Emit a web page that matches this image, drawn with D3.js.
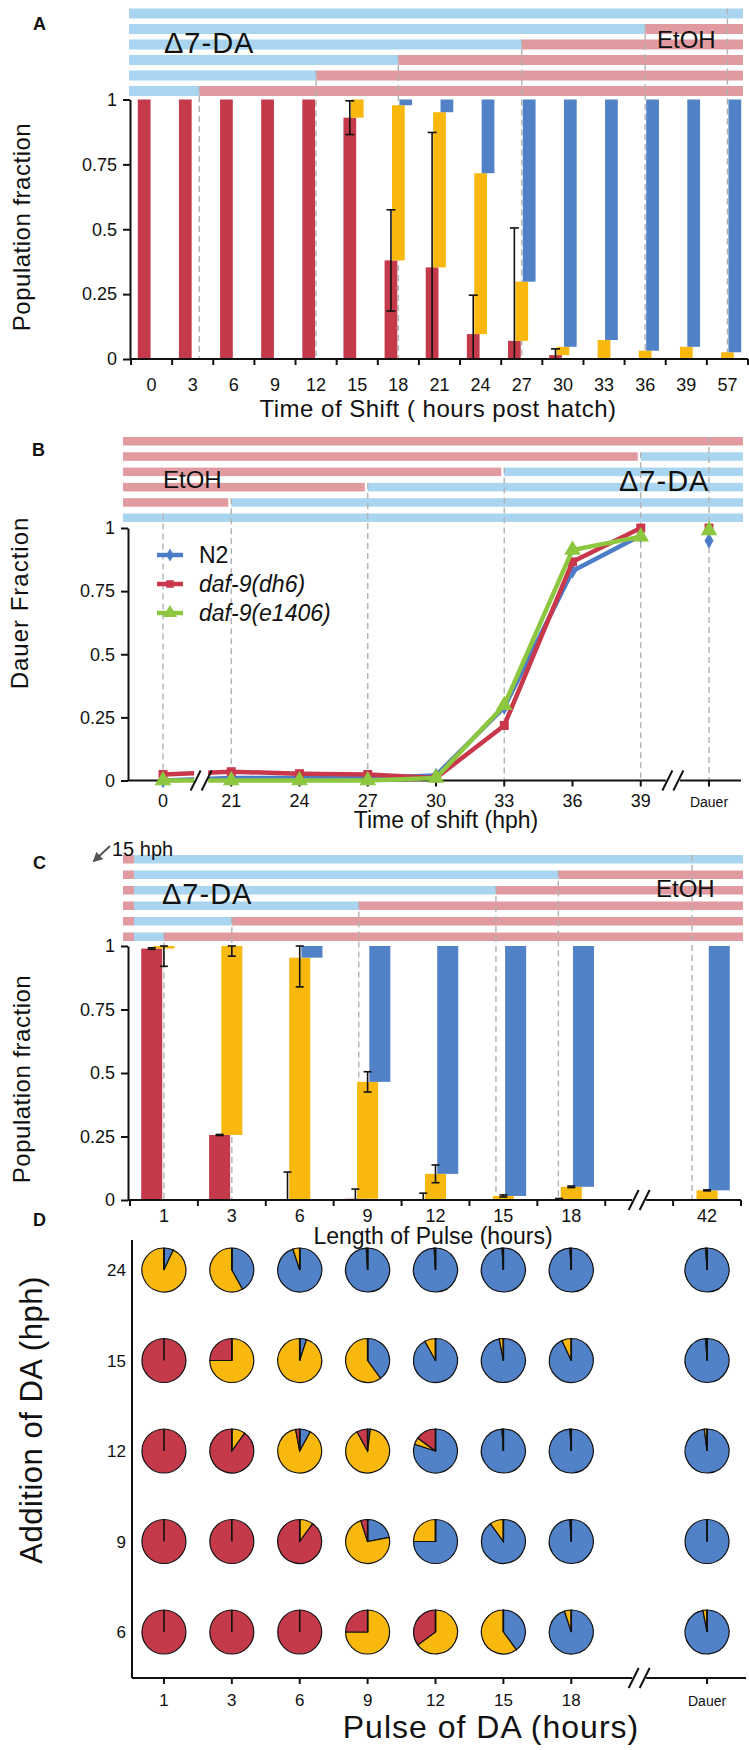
<!DOCTYPE html>
<html><head><meta charset="utf-8">
<script src="https://cdn.jsdelivr.net/npm/d3@7"></script>
<style>
body{margin:0;background:#fff}
svg{display:block;font-family:"Liberation Sans",Arial,Helvetica,sans-serif}
</style></head><body>
<svg id="fig" width="749" height="1750"></svg>
<script>
// ---------------- data ----------------
// A: shift from Δ7-DA to EtOH at different hours post hatch
const aHours   = ["0","3","6","9","12","15","18","21","24","27","30","33","36","39","57"];
const aRepro   = [1,1,1,1,1,0.93,0.38,0.353,0.096,0.07,0.015,0,0,0,0];
const aPartial = [0,0,0,0,0,0.07,0.598,0.598,0.62,0.228,0.032,0.073,0.032,0.047,0.026];
const aReproErr= [0,0,0,0,0,0.065,0.195,0.52,0.15,0.435,0.024,0,0,0,0];
const aShiftAt = ["57","36","27","18","12","3"];
const aShiftNudge = [0,0,0,0,0,0.16];

// B: shift from EtOH to Δ7-DA
const bTimes = ["0","21","24","27","30","33","36","39","Dauer"];
const bN2    = [0,0.01,0.01,0.01,0.02,0.29,0.83,0.97,0.95];
const bDh6   = [0.024,0.035,0.027,0.024,0.01,0.218,0.866,1.0,1.0];
const bE1406 = [0,0,0,0,0.01,0.298,0.913,0.966,0.99];
const bShiftAt = ["Dauer","39","33","27","21","0"];

// C: Δ7-DA pulses of different length starting at 15 hph
const cPulse   = ["1","3","6","9","12","15","18","gap","42"];
const cRepro   = [0.99,0.256,0,0.005,0,0.003,0.004,0,0];
const cPartial = [0.01,0.744,0.954,0.46,0.103,0.013,0.048,0,0.038];
const cReproErr= [0.003,0.002,0.11,0.038,0.027,0,0.002,0,0];
const cPartErr = [0.08,0.04,0.115,0.04,0.035,0.004,0.003,0,0.002];
const cShiftAt = ["42","18","15","9","3","1"];
const cShiftNudge = [-0.22,-0.19,-0.11,-0.13,0,0];

// D: pulse length x time of DA addition
const dPulse = ["1","3","6","9","12","15","18","gap","Dauer"];
const dAdd   = ["24","15","12","9","6"];
const dRepro = [
  [0,0,0,0,0,0,0,null,0],
  [1,0.25,0,0,0,0,0,null,0],
  [1,0.9,0.03,0.08,0.15,0,0,null,0],
  [1,1,0.9,0.05,0,0,0,null,0],
  [1,1,1,0.25,0.35,0,0,null,0]
];
const dPartial = [
  [0.93,0.58,0.05,0.01,0.01,0.01,0.01,null,0.01],
  [0,0.75,0.95,0.6,0.08,0.03,0.07,null,0.01],
  [0,0.1,0.89,0.9,0.05,0.01,0.01,null,0.02],
  [0,0,0.1,0.73,0.25,0.1,0.01,null,0],
  [0,0,0,0.75,0.65,0.6,0.05,null,0.03]
];

// ---------------- style ----------------
const COL = {red:"#c43a4a", yellow:"#f8b80e", blue:"#5181c6",
             sBlue:"#a9d5f0", sPink:"#e09aa0", dash:"#b3b3b3", ink:"#111",
             n2:"#4d7dc9", dh6:"#c8374a", e1406:"#8dc63f"};
const TICK = 18, TITLE = 23;
const svg = d3.select("#fig");

function label(g, x, y, s, size, opts = {}) {
  const t = g.append("text").attr("x", x).attr("y", y).attr("font-size", size)
    .attr("fill", COL.ink).attr("text-anchor", opts.anchor || "start").text(s);
  if (opts.bold) t.attr("font-weight", "bold");
  if (opts.italic) t.attr("font-style", "italic");
  if (opts.spacing) t.attr("letter-spacing", opts.spacing);
  if (opts.rotate) t.attr("transform", `rotate(-90 ${x} ${y})`);
  return t;
}

// striped schedule bars above a panel
function stripes(g, rows, top, step, h) {
  rows.forEach((segs, i) => {
    segs.forEach(s => {
      if (s[1] - s[0] <= 0) return;
      g.append("rect").attr("x", s[0]).attr("y", top + i * step)
        .attr("width", s[1] - s[0]).attr("height", h).attr("fill", s[2]);
    });
  });
}
function dashLines(g, xs, top, step, bottom) {
  xs.forEach((x, i) => {
    g.append("line").attr("x1", x).attr("x2", x)
      .attr("y1", top + i * step).attr("y2", bottom)
      .attr("stroke", COL.dash).attr("stroke-width", 1.4).attr("stroke-dasharray", "6,4");
  });
}
function yAxis(g, y, x) {
  const ax = d3.axisLeft(y).tickValues([0, 0.25, 0.5, 0.75, 1])
    .tickFormat(d => String(d)).tickSize(7).tickSizeOuter(0).tickPadding(6);
  const a = g.append("g").attr("transform", `translate(${x},0)`).call(ax);
  a.selectAll("path,line").attr("stroke", COL.ink).attr("stroke-width", 2);
  a.selectAll("text").attr("font-size", TICK).attr("fill", COL.ink)
    .attr("font-family", "Liberation Sans, Arial, sans-serif");
}
function breakMark(g, xm, y) {
  g.append("rect").attr("x", xm - 7).attr("y", y - 13).attr("width", 14).attr("height", 26).attr("fill", "#fff");
  [-5.5, 5.5].forEach(d => g.append("line")
    .attr("x1", xm + d - 5).attr("y1", y + 10).attr("x2", xm + d + 5).attr("y2", y - 10)
    .attr("stroke", COL.ink).attr("stroke-width", 2));
}
// three-state bars, each state offset within its band
function offsetBars(g, x, y, cats, repro, partial) {
  const bw = x.bandwidth(), w = bw * 0.31, off = bw * 0.18;
  const rows = cats.map((c, i) => ({c, r: repro[i], p: partial[i]})).filter(d => d.c !== "gap");
  const cx = d => x(d.c) + bw / 2;
  g.selectAll(null).data(rows.filter(d => d.r > 0)).join("rect")
    .attr("x", d => cx(d) - off - w / 2).attr("width", w)
    .attr("y", d => y(d.r)).attr("height", d => y(0) - y(d.r)).attr("fill", COL.red);
  g.selectAll(null).data(rows.filter(d => d.p > 0)).join("rect")
    .attr("x", d => cx(d) - w / 2).attr("width", w)
    .attr("y", d => y(d.r + d.p)).attr("height", d => y(d.r) - y(d.r + d.p)).attr("fill", COL.yellow);
  g.selectAll(null).data(rows.filter(d => 1 - d.r - d.p > 0.001)).join("rect")
    .attr("x", d => cx(d) + off - w / 2).attr("width", w)
    .attr("y", y(1)).attr("height", d => y(d.r + d.p) - y(1)).attr("fill", COL.blue);
}
function errBars(g, x, y, cats, mean, err, shift, cap) {
  const bw = x.bandwidth();
  cats.forEach((c, i) => {
    if (!err[i] || c === "gap") return;
    const cx = x(c) + bw / 2 + shift * bw;
    const lo = Math.max(0, mean[i] - err[i]), hi = Math.min(1, mean[i] + err[i]);
    const e = g.append("g").attr("stroke", COL.ink).attr("stroke-width", 1.6);
    e.append("line").attr("x1", cx).attr("x2", cx).attr("y1", y(lo)).attr("y2", y(hi));
    [lo, hi].forEach(v => e.append("line").attr("x1", cx - cap).attr("x2", cx + cap).attr("y1", y(v)).attr("y2", y(v)));
  });
}
function bandAxis(g, x, y0, x0, x1, cats, labelGap) {
  g.append("line").attr("x1", x0).attr("x2", x1).attr("y1", y0).attr("y2", y0)
    .attr("stroke", COL.ink).attr("stroke-width", 2);
  const bw = x.bandwidth();
  const edges = cats.map(c => x(c)).concat([x(cats[cats.length - 1]) + bw]);
  edges.forEach(e => g.append("line").attr("x1", e).attr("x2", e).attr("y1", y0).attr("y2", y0 + 6)
    .attr("stroke", COL.ink).attr("stroke-width", 2));
  cats.forEach(c => { if (c !== "gap") label(g, x(c) + bw / 2, y0 + labelGap, c, TICK, {anchor: "middle"}); });
}

// ======================= Panel A =======================
{
  const g = svg.append("g");
  const xA = d3.scaleBand().domain(aHours).range([131, 748]);
  const yA = d3.scaleLinear().domain([0, 1]).range([359, 99.5]);
  const bw = xA.bandwidth();
  const sx0 = 129, sx1 = 743, top = 8.5, step = 15.5;
  const lx = aShiftAt.map((c, i) => xA(c) + bw / 2 + aShiftNudge[i] * bw);
  stripes(g, lx.map((x, i) => i === 0 ? [[sx0, sx1, COL.sBlue]] : [[sx0, x, COL.sBlue], [x, sx1, COL.sPink]]), top, step, 10);
  dashLines(g, lx, top, step, yA(0));
  label(g, 33, 30, "A", 18, {bold: true});
  label(g, 164, 53, "Δ7-DA", 29, {spacing: 1});
  label(g, 657, 48, "EtOH", 24);
  offsetBars(g, xA, yA, aHours, aRepro, aPartial);
  errBars(g, xA, yA, aHours, aRepro, aReproErr, -0.18, 4.5);
  yAxis(g, yA, 130);
  bandAxis(g, xA, yA(0), 130, 748, aHours, 32);
  label(g, 438, 417, "Time of Shift ( hours post hatch)", TITLE + 1, {anchor: "middle", spacing: 0.5});
  label(g, 30, 227, "Population fraction", TITLE + 1, {anchor: "middle", rotate: true, spacing: 0.5});
}

// ======================= Panel B =======================
{
  const g = svg.append("g");
  const xB = d3.scalePoint().domain(bTimes).range([163, 709]);
  const yB = d3.scaleLinear().domain([0, 1]).range([780.5, 528]);
  const sx0 = 123, sx1 = 743, top = 437, step = 15.3;
  const lx = bShiftAt.map(c => xB(c));
  stripes(g, lx.map((x, i) => i === 0 ? [[sx0, sx1, COL.sPink]] :
    i === lx.length - 1 ? [[sx0, sx1, COL.sBlue]] : [[sx0, x - 3, COL.sPink], [x, sx1, COL.sBlue]]), top, step, 8.5);
  dashLines(g, lx, top, step, yB(0));
  label(g, 32, 456, "B", 18, {bold: true});
  label(g, 163, 488, "EtOH", 24);
  label(g, 619, 491, "Δ7-DA", 29, {spacing: 1});

  // x axis with breaks
  g.append("line").attr("x1", 128).attr("x2", 741).attr("y1", yB(0)).attr("y2", yB(0))
    .attr("stroke", COL.ink).attr("stroke-width", 2);
  bTimes.forEach(c => g.append("line").attr("x1", xB(c)).attr("x2", xB(c)).attr("y1", yB(0)).attr("y2", yB(0) + 6)
    .attr("stroke", COL.ink).attr("stroke-width", 2));
  bTimes.forEach(c => label(g, xB(c), yB(0) + 26, c, c === "Dauer" ? 14 : TICK, {anchor: "middle"}));

  const series = [
    {v: bN2, c: COL.n2, sym: d3.symbolDiamond, size: 70},
    {v: bDh6, c: COL.dh6, sym: d3.symbolSquare, size: 80},
    {v: bE1406, c: COL.e1406, sym: d3.symbolTriangle, size: 120}
  ];
  const line = d3.line().x(d => xB(d.k)).y(d => yB(d.v));
  series.forEach(s => {
    const pts = bTimes.map((k, i) => ({k, v: s.v[i]}));
    g.append("path").datum(pts.slice(0, 8)).attr("d", line).attr("fill", "none")
      .attr("stroke", s.c).attr("stroke-width", 4.5).attr("stroke-linejoin", "round");
    g.selectAll(null).data(pts).join("path")
      .attr("transform", d => `translate(${xB(d.k)},${yB(d.v)})`)
      .attr("d", d3.symbol(s.sym, s.size)).attr("fill", s.c);
  });
  breakMark(g, (xB("0") + xB("21")) / 2 + 4, yB(0));
  breakMark(g, (xB("39") + xB("Dauer")) / 2 - 2, yB(0));
  yAxis(g, yB, 128);

  // legend
  const names = ["N2", "daf-9(dh6)", "daf-9(e1406)"];
  series.forEach((s, i) => {
    const ly = 555 + i * 29;
    g.append("line").attr("x1", 157).attr("x2", 183).attr("y1", ly).attr("y2", ly)
      .attr("stroke", s.c).attr("stroke-width", 4.5);
    g.append("path").attr("transform", `translate(170,${ly})`).attr("d", d3.symbol(s.sym, s.size * 0.7)).attr("fill", s.c);
    label(g, 199, ly + 8, names[i], 23, {italic: i > 0});
  });
  label(g, 446, 828, "Time of shift (hph)", TITLE, {anchor: "middle"});
  label(g, 28, 603, "Dauer Fraction", TITLE + 1, {anchor: "middle", rotate: true, spacing: 1});
}

// ======================= Panel C =======================
{
  const g = svg.append("g");
  const xC = d3.scaleBand().domain(cPulse).range([130, 741]);
  const yC = d3.scaleLinear().domain([0, 1]).range([1200, 946]);
  const bw = xC.bandwidth();
  const sx0 = 123, pre = 134, sx1 = 743, top = 855, step = 15.5;
  const lx = cShiftAt.map((c, i) => xC(c) + bw / 2 + cShiftNudge[i] * bw);
  stripes(g, lx.map((x, i) => i === 0 ? [[sx0, pre, COL.sPink], [pre, sx1, COL.sBlue]] :
    [[sx0, pre, COL.sPink], [pre, x, COL.sBlue], [x, sx1, COL.sPink]]), top, step, 8.5);
  dashLines(g, lx, top, step, yC(0));
  label(g, 33, 869, "C", 18, {bold: true});
  label(g, 162, 904, "Δ7-DA", 29, {spacing: 1});
  label(g, 656, 897, "EtOH", 24);
  // arrow to the start of the pulse
  g.append("defs").append("marker").attr("id", "ah").attr("viewBox", "0 0 10 10").attr("refX", 8).attr("refY", 5)
    .attr("markerWidth", 5).attr("markerHeight", 5).attr("orient", "auto")
    .append("path").attr("d", "M0,0L10,5L0,10z").attr("fill", "#555");
  g.append("line").attr("x1", 110).attr("y1", 846).attr("x2", 94).attr("y2", 861)
    .attr("stroke", "#555").attr("stroke-width", 2).attr("marker-end", "url(#ah)");
  label(g, 112, 856, "15 hph", 20);

  offsetBars(g, xC, yC, cPulse, cRepro, cPartial);
  errBars(g, xC, yC, cPulse, cRepro, cReproErr, -0.18, 4);
  errBars(g, xC, yC, cPulse, cRepro.map((r, i) => r + cPartial[i]), cPartErr, 0, 4);
  yAxis(g, yC, 128);
  bandAxis(g, xC, yC(0), 128, 741, cPulse, 22);
  breakMark(g, xC("gap") + bw / 2, yC(0));
  label(g, 433, 1244, "Length of Pulse (hours)", TITLE, {anchor: "middle"});
  label(g, 30, 1079, "Population fraction", TITLE + 1, {anchor: "middle", rotate: true, spacing: 0.5});
}

// ======================= Panel D =======================
{
  const g = svg.append("g");
  const xD = d3.scaleBand().domain(dPulse).range([130, 741]);
  const yD = d3.scalePoint().domain(dAdd).range([1270, 1632]);
  const bw = xD.bandwidth(), R = 22;
  const axY = 1678;
  label(g, 33, 1226, "D", 18, {bold: true});
  g.append("line").attr("x1", 132).attr("x2", 132).attr("y1", 1240).attr("y2", axY).attr("stroke", COL.ink).attr("stroke-width", 2);
  g.append("line").attr("x1", 132).attr("x2", 746).attr("y1", axY).attr("y2", axY).attr("stroke", COL.ink).attr("stroke-width", 2);
  dPulse.forEach(c => { if (c !== "gap") {
    g.append("line").attr("x1", xD(c) + bw / 2).attr("x2", xD(c) + bw / 2).attr("y1", axY).attr("y2", axY + 6)
      .attr("stroke", COL.ink).attr("stroke-width", 2);
    label(g, xD(c) + bw / 2, axY + 28, c, c === "Dauer" ? 14 : TICK - 1, {anchor: "middle"});
  }});
  breakMark(g, xD("gap") + bw / 2, axY);
  dAdd.forEach(r => label(g, 126, yD(r) + 6, r, TICK - 1, {anchor: "end"}));

  const pie = d3.pie().sort(null).value(d => d.v);
  const arc = d3.arc().innerRadius(0).outerRadius(R);
  dAdd.forEach((r, ri) => dPulse.forEach((c, ci) => {
    if (c === "gap") return;
    const red = dRepro[ri][ci], yel = dPartial[ri][ci];
    const slices = [{v: 1 - red - yel, f: COL.blue}, {v: yel, f: COL.yellow}, {v: red, f: COL.red}];
    const cell = g.append("g").attr("transform", `translate(${xD(c) + bw / 2},${yD(r)})`);
    cell.selectAll(null).data(pie(slices)).join("path").attr("d", arc)
      .attr("fill", d => d.data.f).attr("stroke", COL.ink).attr("stroke-width", 1.2);
    cell.append("line").attr("x1", 0).attr("y1", 0).attr("x2", 0).attr("y2", -R)
      .attr("stroke", COL.ink).attr("stroke-width", 1.6);
  }));
  label(g, 491, 1738, "Pulse of DA (hours)", 32, {anchor: "middle", spacing: 1});
  label(g, 42, 1420, "Addition of DA (hph)", 31, {anchor: "middle", rotate: true, spacing: 0.5});
}
</script>
</body></html>
